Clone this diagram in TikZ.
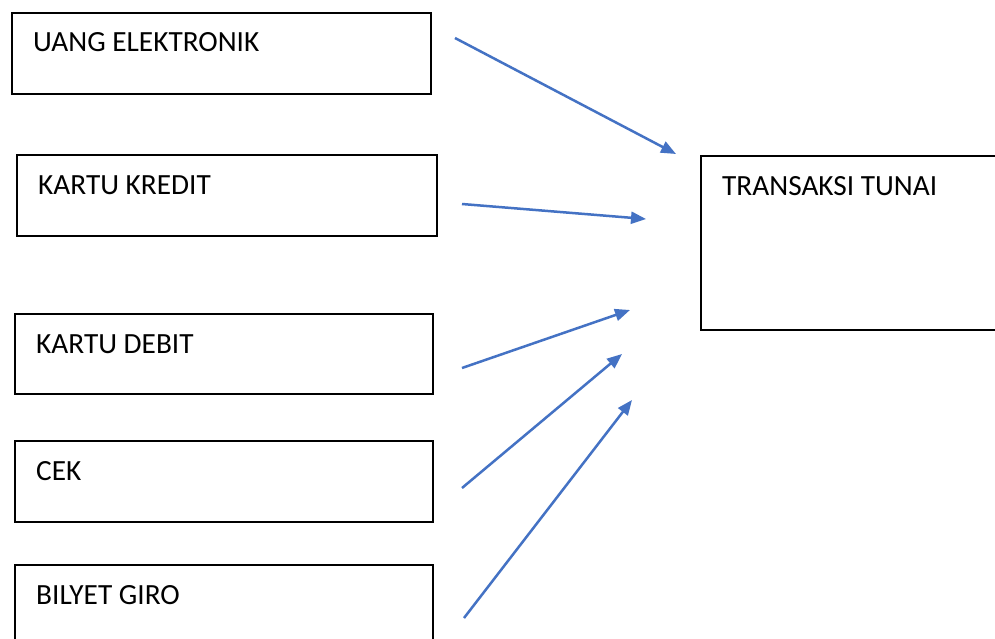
\documentclass[tikz,border=0pt]{standalone}
\usepackage{fontspec}
\setmainfont{Carlito}
\usetikzlibrary{arrows.meta,calc}
\definecolor{arrowblue}{HTML}{4472C4}
\tikzset{
  box/.style={draw=black,line width=1.6pt,rectangle,anchor=north west,inner sep=0pt,fill=none},
  txt/.style={anchor=base west,inner sep=0pt,font=\fontsize{29.3}{35}\selectfont},
  conn/.style={draw=arrowblue,line width=2.5pt,-{Triangle[length=15pt,width=12pt]}}
}
\begin{document}
\begin{tikzpicture}[x=1pt,y=-1pt]
\useasboundingbox (0,0) rectangle (995,639);
\clip (0,0) rectangle (995,639);
\fill[white] (0,0) rectangle (995,639);
% boxes
\node[box,minimum width=419pt,minimum height=81pt] (ue) at (11,12) {};
\node[txt] (tue) at (33,52) {UANG ELEKTRONIK};
\node[box,minimum width=420pt,minimum height=81pt] (kk) at (16,154) {};
\node[txt] (tkk) at (38,194) {KARTU KREDIT};
\node[box,minimum width=418pt,minimum height=80pt] (kd) at (14,313) {};
\node[txt] (tkd) at (36,353) {KARTU DEBIT};
\node[box,minimum width=418pt,minimum height=81pt] (cek) at (14,440) {};
\node[txt] (tcek) at (36,480) {CEK};
\node[box,minimum width=418pt,minimum height=90pt] (bg) at (14,564) {};
\node[txt] (tbg) at (36,604) {BILYET GIRO};
\node[box,minimum width=320pt,minimum height=174pt] (tt) at (700,155) {};
\node[txt] (ttt) at (722,195) {TRANSAKSI TUNAI};
% free arrow ends
\coordinate (a1s) at (455,38);  \coordinate (a1e) at (676,154);
\coordinate (a2s) at (462,204); \coordinate (a2e) at (646,219);
\coordinate (a3s) at (462,368); \coordinate (a3e) at (630,310);
\coordinate (a4s) at (462,488); \coordinate (a4e) at (622,354);
\coordinate (a5s) at (464,618); \coordinate (a5e) at (632,400);
\draw[conn] (a1s) -- (a1e);
\draw[conn] (a2s) -- (a2e);
\draw[conn] (a3s) -- (a3e);
\draw[conn] (a4s) -- (a4e);
\draw[conn] (a5s) -- (a5e);
\end{tikzpicture}
\end{document}
